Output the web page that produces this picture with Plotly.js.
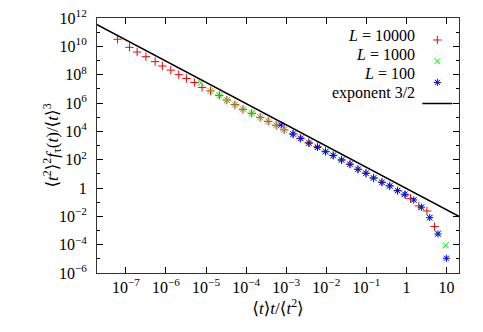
<!DOCTYPE html>
<html>
<head>
<meta charset="utf-8">
<script src="https://cdn.plot.ly/plotly-3.0.1.min.js"></script>
<style>
  html, body { margin: 0; padding: 0; background: #fff; }
  #graph { width: 483px; height: 332px; }
</style>
</head>
<body>
<div id="graph"></div>
<script>
// L = 10000
let x10000 = [6.2e-8, 1.23e-7, 1.91e-7, 3.16e-7, 5.37e-7, 8.13e-7, 1.32e-6, 2.09e-6, 3.24e-6, 5.13e-6,
  7.94e-6, 1.29e-5, 2.14e-5, 3.31e-5, 5.25e-5, 8.32e-5, 1.38e-4, 2.24e-4, 3.55e-4, 5.62e-4,
  8.91e-4, 1.51e-3, 2.24e-3, 3.63e-3, 6.03e-3, 9.55e-3, 1.48e-2, 2.40e-2, 3.89e-2, 6.17e-2,
  9.77e-2, 0.151, 0.245, 0.380, 0.603, 0.933, 1.26, 2.04, 3.24, 5.01];
let y10000 = [3.16e10, 8.5e9, 4.0e9, 1.86e9, 8.3e8, 4.1e8, 2.1e8, 1.0e8, 5.4e7, 2.8e7,
  1.26e7, 7.1e6, 3.5e6, 1.62e6, 7.6e5, 3.6e5, 1.9e5, 9.8e4, 5.1e4, 2.7e4,
  1.26e4, 6.5e3, 3.2e3, 1.58e3, 830, 390, 200, 95, 48, 21,
  11, 5.1, 2.6, 1.41, 0.65, 0.32, 0.18, 0.054, 0.024, 1.9e-3];

// L = 1000
let x1000 = [7.4e-6, 1.29e-5, 2.14e-5, 3.31e-5, 5.25e-5, 8.32e-5, 1.38e-4, 2.24e-4, 3.55e-4, 5.62e-4,
  8.91e-4, 1.51e-3, 2.24e-3, 3.63e-3, 6.03e-3, 9.55e-3, 1.48e-2, 2.40e-2, 3.89e-2, 6.17e-2,
  9.77e-2, 0.151, 0.245, 0.380, 0.603, 0.91, 1.52, 2.36, 3.8, 6.1, 9.5];
let y1000 = [2.7e7, 7.0e6, 3.5e6, 1.6e6, 7.6e5, 3.6e5, 1.9e5, 9.8e4, 5.1e4, 2.7e4,
  1.26e4, 6.5e3, 3.2e3, 1.58e3, 830, 390, 200, 95, 48, 21,
  11, 5.1, 2.6, 1.41, 0.65, 0.36, 0.143, 0.044, 8.1e-3, 6.4e-4, 9.1e-5];

// L = 100
let x100 = [7.5e-4, 1.46e-3, 2.31e-3, 3.72e-3, 6.04e-3, 9.55e-3, 1.49e-2, 2.41e-2, 3.89e-2, 6.15e-2,
  9.73e-2, 0.151, 0.243, 0.385, 0.597, 0.908, 1.52, 2.36, 3.80, 6.11, 9.9];
let y100 = [2.8e4, 6.5e3, 3.2e3, 1.44e3, 730, 360, 200, 95, 47, 21,
  11, 5.1, 2.5, 1.40, 0.65, 0.36, 0.143, 0.044, 8.1e-3, 5.7e-4, 1.1e-5];

// exponent 3/2 guide
let xLine = [1e-8, 100];
let yLine = [9.1e11, 9.1e-4];

let xTickVals = [1e-7, 1e-6, 1e-5, 1e-4, 1e-3, 1e-2, 1e-1, 1, 10];
let xTickText = ['10<sup>−7</sup>', '10<sup>−6</sup>', '10<sup>−5</sup>', '10<sup>−4</sup>',
  '10<sup>−3</sup>', '10<sup>−2</sup>', '10<sup>−1</sup>', '1', '10'];
let yTickVals = [1e12, 1e10, 1e8, 1e6, 1e4, 1e2, 1, 1e-2, 1e-4, 1e-6];
let yTickText = ['10<sup>12</sup>', '10<sup>10</sup>', '10<sup>8</sup>', '10<sup>6</sup>',
  '10<sup>4</sup>', '10<sup>2</sup>', '1', '10<sup>−2</sup>', '10<sup>−4</sup>', '10<sup>−6</sup>'];
let yMinorVals = [1e11, 1e9, 1e7, 1e5, 1e3, 10, 0.1, 1e-3, 1e-5];

let legendNames = ['<i>L</i> = 10000', '<i>L</i> = 1000', '<i>L</i> = 100', 'exponent 3/2'];
let yTitle = '⟨<i>t</i><sup>2</sup>⟩<sup>2</sup><i>f</i><sub>τ</sub>(<i>t</i>)/⟨<i>t</i>⟩<sup>3</sup>';
let xTitle = '⟨<i>t</i>⟩<i>t</i>/⟨<i>t</i><sup>2</sup>⟩';

let serif = 'Liberation Serif, DejaVu Serif, serif';

let trace1 = {
  x: x10000, y: y10000, type: 'scatter', mode: 'markers', name: ' ',
  marker: {symbol: 'cross-thin-open', size: 6, color: '#ff0000', line: {color: '#ff0000', width: 1}}
};
let trace2 = {
  x: x1000, y: y1000, type: 'scatter', mode: 'markers', name: ' ',
  marker: {symbol: 'x-thin-open', size: 6, color: '#00ee00', line: {color: '#00ee00', width: 1}}
};
let trace3 = {
  x: x100, y: y100, type: 'scatter', mode: 'markers', name: ' ',
  marker: {symbol: 'asterisk-open', size: 6, color: '#0000ff', line: {color: '#0000ff', width: 1}}
};
let trace4 = {
  x: xLine, y: yLine, type: 'scatter', mode: 'lines', name: ' ',
  line: {color: '#000', width: 1.5}
};

// legend text sits left of the keys, gnuplot style
let annotations = legendNames.map(function (name, i) {
  return {
    xref: 'paper', yref: 'paper', x: 0.885, y: 0.933 - i * 0.076,
    xanchor: 'right', yanchor: 'middle', showarrow: false,
    text: name, font: {family: serif, size: 16, color: '#000'}
  };
});
annotations.push({
  xref: 'paper', yref: 'paper', x: -0.124, y: 0.5,
  xanchor: 'center', yanchor: 'middle', showarrow: false, textangle: -90,
  text: yTitle, font: {family: serif, size: 17, color: '#000'}
});

let layout = {
  width: 483, height: 332,
  margin: {l: 97, r: 24, t: 18, b: 59},
  paper_bgcolor: '#fff', plot_bgcolor: '#fff',
  font: {family: serif, size: 16, color: '#000'},
  showlegend: true,
  legend: {
    x: 0.885, y: 0.975, xanchor: 'left', yanchor: 'top',
    bgcolor: 'rgba(0,0,0,0)', font: {size: 14}, tracegroupgap: 0
  },
  xaxis: {
    type: 'log', range: [-7.72, 1.31],
    tickvals: xTickVals, ticktext: xTickText,
    ticks: 'inside', ticklen: 6, tickcolor: '#000',
    showline: true, linecolor: '#333', linewidth: 1, mirror: 'ticks',
    showgrid: false, zeroline: false,
    ticklabelstandoff: 0, automargin: true,
    title: {text: xTitle, font: {size: 17}, standoff: 2}
  },
  yaxis: {
    type: 'log', range: [-6, 12],
    tickvals: yTickVals, ticktext: yTickText,
    ticks: 'inside', ticklen: 6, tickcolor: '#000',
    minor: {tickvals: yMinorVals, ticks: 'inside', ticklen: 3, tickcolor: '#000', showgrid: false},
    showline: true, linecolor: '#333', linewidth: 1, mirror: 'ticks',
    showgrid: false, zeroline: false,
    ticklabelstandoff: 6
  },
  annotations: annotations
};

Plotly.newPlot('graph', [trace1, trace2, trace3, trace4], layout, {displayModeBar: false, staticPlot: true});
</script>
</body>
</html>
